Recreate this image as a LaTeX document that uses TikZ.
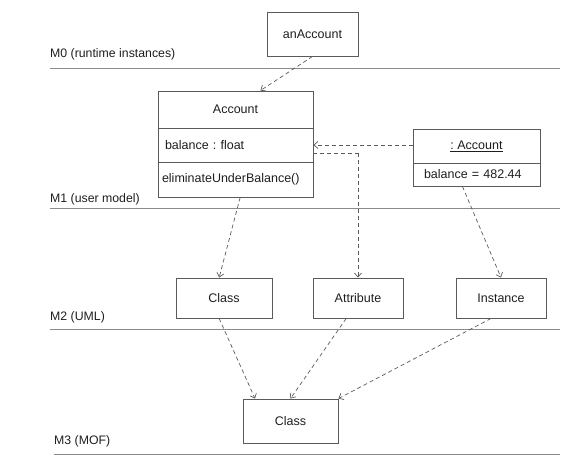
\documentclass[tikz,border=0pt]{standalone}
\usepackage{fontspec}
\setmainfont{Liberation Sans}
\usetikzlibrary{arrows.meta,calc}
\definecolor{linec}{RGB}{90,90,90}
\definecolor{txt}{RGB}{30,30,30}
\tikzset{
  box/.style={draw=linec, line width=0.9pt, rectangle, inner sep=0pt, text=txt, font=\fontsize{12.5}{14}\selectfont\frenchspacing},
  lvl/.style={draw=linec!70, line width=0.9pt},
  lbl/.style={anchor=west, inner sep=0pt, text=txt, font=\fontsize{12.3}{14}\selectfont},
  dep/.style={draw=linec, line width=0.7pt, dash pattern=on 4pt off 3pt, -{Straight Barb[length=4pt,width=7pt]}},
  depline/.style={draw=linec, line width=0.7pt, dash pattern=on 4pt off 3pt}
}
\begin{document}
\begin{tikzpicture}[x=1pt,y=-1pt]
\useasboundingbox (0,0) rectangle (579,457);
% level lines
\coordinate (l0a) at (50,68);  \coordinate (l0b) at (560,68);
\coordinate (l1a) at (50,208); \coordinate (l1b) at (560,208);
\coordinate (l2a) at (50,329); \coordinate (l2b) at (560,329);
\coordinate (l3a) at (54,454); \coordinate (l3b) at (560,454);
\draw[lvl] (l0a) -- (l0b);
\draw[lvl] (l1a) -- (l1b);
\draw[lvl] (l2a) -- (l2b);
\draw[lvl] (l3a) -- (l3b);
\node[lbl] (m0) at (50,54) {M0 (runtime instances)};
\node[lbl] (m1) at (50,199) {M1 (user model)};
\node[lbl] (m2) at (50,317) {M2 (UML)};
\node[lbl] (m3) at (54,441) {M3 (MOF)};
% M0
\node[box, minimum width=91pt, minimum height=44pt] (anacc) at (312.5,34) {anAccount};
% M1 Account class
\node[box, minimum width=155pt, minimum height=37pt] (acct) at (235.5,109.5) {Account};
\node[box, minimum width=155pt, minimum height=34pt, text width=141pt, align=left] (acca) at (235.5,145) {balance : float};
\node[box, minimum width=155pt, minimum height=35pt, text width=147pt, align=left] (acco) at (235.5,179.5) {eliminateUnderBalance()};
% instance
\node[box, minimum width=127pt, minimum height=34pt] (inst) at (476.5,146) {\underline{: Account}};
\node[box, minimum width=127pt, minimum height=23pt, text width=105pt, align=left] (insta) at (476.5,174.5) {balance = 482.44};
% M2
\node[box, minimum width=96pt, minimum height=40pt] (cls) at (224,298) {Class};
\node[box, minimum width=90pt, minimum height=40pt] (attr) at (358,298) {Attribute};
\node[box, minimum width=90pt, minimum height=40pt] (ins) at (501,298) {Instance};
% M3
\node[box, minimum width=95pt, minimum height=44pt] (mcls) at (290.5,421) {Class};
% connectors
\draw[dep] (anacc.south) -- ($(acct.north west)!0.66!(acct.north east)$);
\draw[dep] (inst.west |- acca.east) -- (acca.east);
\coordinate (bend) at ($(acca.east)+(0,8)$);
\draw[depline] (bend) -- (bend -| attr.north);
\draw[dep] (bend -| attr.north) -- (attr.north);
\draw[dep] ($(acco.south west)!0.53!(acco.south east)$) -- ($(cls.north west)!0.45!(cls.north east)$);
\draw[dep] ($(insta.south west)!0.39!(insta.south east)$) -- (ins.north);
\draw[dep] ($(cls.south west)!0.45!(cls.south east)$) -- ($(mcls.north west)!0.13!(mcls.north east)$);
\draw[dep] ($(attr.south west)!0.37!(attr.south east)$) -- (mcls.north);
\draw[dep] ($(ins.south west)!0.39!(ins.south east)$) -- (mcls.north east);
\end{tikzpicture}
\end{document}
